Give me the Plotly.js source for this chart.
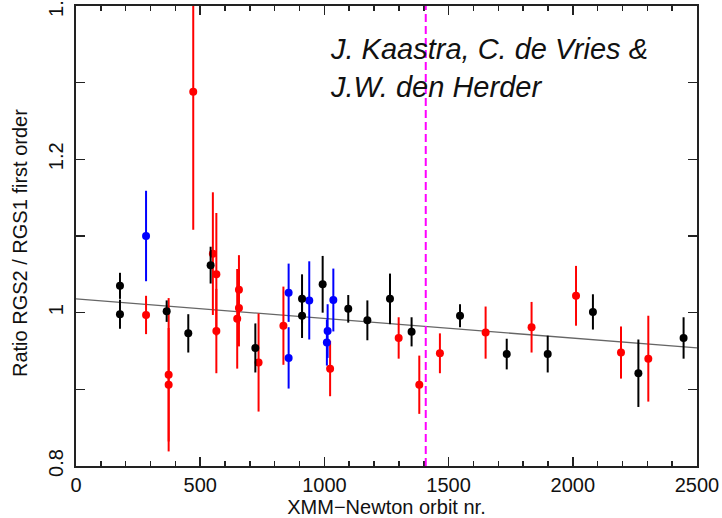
<!DOCTYPE html>
<html>
<head>
<meta charset="utf-8">
<script src="https://cdn.plot.ly/plotly-3.0.1.min.js"></script>
<style>
  html, body { margin: 0; padding: 0; background: #ffffff; }
  #chart { width: 722px; height: 518px; }
</style>
</head>
<body>
<div id="chart"></div>
<script>
// RGS2 / RGS1 first-order flux ratio per XMM-Newton orbit, three source groups
const blackOrbit = [177, 177, 365, 452, 542, 722, 910, 910, 993, 1096, 1173, 1264, 1351, 1546, 1734, 1899, 2081, 2264, 2446];
const blackRatio = [1.035, 0.998, 1.002, 0.973, 1.062, 0.954, 1.018, 0.996, 1.037, 1.005, 0.990, 1.018, 0.975, 0.996, 0.946, 0.946, 1.001, 0.921, 0.967];
const blackErr   = [0.017, 0.019, 0.014, 0.025, 0.024, 0.032, 0.032, 0.029, 0.037, 0.018, 0.026, 0.033, 0.019, 0.015, 0.020, 0.024, 0.023, 0.044, 0.027];

const redOrbit = [282, 373, 373, 472, 551, 565, 565, 649, 656, 656, 735, 835, 1023, 1299, 1382, 1465, 1649, 1834, 2013, 2194, 2304];
const redRatio = [0.997, 0.919, 0.906, 1.288, 1.077, 1.050, 0.976, 0.992, 1.030, 1.006, 0.935, 0.983, 0.927, 0.967, 0.906, 0.947, 0.974, 0.981, 1.022, 0.948, 0.940];
const redErr   = [0.025, 0.100, 0.074, 0.180, 0.080, 0.080, 0.055, 0.065, 0.045, 0.050, 0.064, 0.051, 0.036, 0.027, 0.038, 0.026, 0.034, 0.033, 0.039, 0.034, 0.056];

const blueOrbit = [282, 856, 856, 939, 1013, 1010, 1036];
const blueRatio = [1.100, 1.026, 0.941, 1.016, 0.976, 0.961, 1.0165];
const blueErr   = [0.059, 0.038, 0.040, 0.051, 0.035, 0.030, 0.041];

// Linear trend through all points
const fitOrbit = [0, 2500];
const fitRatio = [1.018, 0.954];

// Orbit marking the change, drawn as a dashed vertical line
const markerOrbit = 1408;

const fontFamily = '"Liberation Sans", Arial, Helvetica, sans-serif';

function series(xs, ys, es, color) {
  return {
    type: 'scatter', mode: 'markers', x: xs, y: ys,
    marker: { color: color, size: 8, line: { width: 0 } },
    error_y: { type: 'data', array: es, visible: true, color: color, thickness: 2, width: 0 },
    showlegend: false, hoverinfo: 'x+y'
  };
}

const traces = [
  { type: 'scatter', mode: 'lines', x: fitOrbit, y: fitRatio,
    line: { color: '#666666', width: 1.3 }, showlegend: false, hoverinfo: 'skip' },
  series(redOrbit, redRatio, redErr, '#ff0000'),
  series(blueOrbit, blueRatio, blueErr, '#0000ff'),
  series(blackOrbit, blackRatio, blackErr, '#000000')
];

const axisCommon = {
  showline: true, linecolor: '#222222', linewidth: 2, mirror: 'allticks',
  ticks: 'inside', ticklen: 9, tickwidth: 1.5, tickcolor: '#222222',
  showgrid: false, zeroline: false, ticklabeloverflow: 'allow',
  tickfont: { family: fontFamily, size: 20, color: '#111111' }
};

const layout = {
  width: 722, height: 518,
  margin: { l: 76, r: 25, t: 6, b: 52 },
  paper_bgcolor: '#ffffff', plot_bgcolor: '#ffffff',
  font: { family: fontFamily, color: '#111111' },
  xaxis: Object.assign({}, axisCommon, {
    range: [0, 2500], dtick: 500, tick0: 0,
    minor: { dtick: 100, ticks: 'inside', ticklen: 5, tickwidth: 1.5, tickcolor: '#222222' },
    title: { text: 'XMM\u2212Newton orbit nr.', font: { family: fontFamily, size: 20, color: '#111111' }, standoff: 2 }
  }),
  yaxis: Object.assign({}, axisCommon, {
    range: [0.8, 1.4], dtick: 0.2, tick0: 0.8, tickangle: -90, ticklabelstandoff: 3,
    minor: { dtick: 0.1, ticks: 'inside', ticklen: 9, tickwidth: 1.5, tickcolor: '#222222' }
  }),
  shapes: [{
    type: 'line', xref: 'x', yref: 'paper', x0: markerOrbit, x1: markerOrbit, y0: 0, y1: 1,
    line: { color: '#ff00ff', width: 2, dash: '8px,4px' }
  }],
  annotations: [
    {
      xref: 'paper', yref: 'paper', x: 0.405, y: 0.945, xanchor: 'left', yanchor: 'top',
      align: 'left', showarrow: false,
      text: '<i>J. Kaastra, C. de Vries &amp;<br>J.W. den Herder</i>',
      font: { family: fontFamily, size: 29, color: '#111111' }
    },
    {
      xref: 'paper', yref: 'paper', x: -0.09, y: 0.485, xanchor: 'center', yanchor: 'middle',
      textangle: -90, showarrow: false,
      text: 'Ratio RGS2 / RGS1 first order',
      font: { family: fontFamily, size: 20, color: '#111111' }
    }
  ]
};

Plotly.newPlot('chart', traces, layout, { displayModeBar: false, staticPlot: true });
</script>
</body>
</html>
